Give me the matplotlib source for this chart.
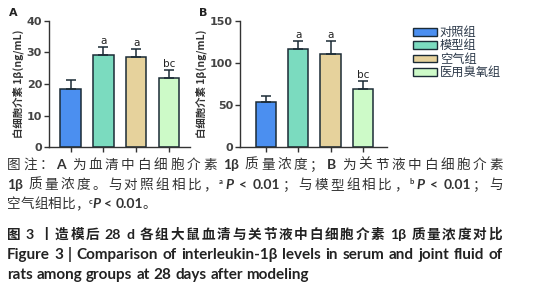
import matplotlib
matplotlib.use("Agg")
import matplotlib.pyplot as plt
import matplotlib.transforms as mtransforms
from matplotlib.patches import Patch

plt.rcParams['font.family'] = ['Noto Sans CJK SC', 'DejaVu Sans']

# ---------------- data ----------------
groups = ['对照组', '模型组', '空气组', '医用臭氧组']
serum = [18.5, 29.1, 28.6, 21.9]
serum_err = [2.9, 2.6, 2.6, 2.7]
fluid = [53.6, 116.3, 111.1, 69.0]
fluid_err = [7.1, 9.9, 14.7, 9.2]
sig_labels = ['', 'a', 'a', 'bc']
serum_ticks = [0, 10, 20, 30, 40]
fluid_ticks = [0, 50, 100, 150]
ylabel = '白细胞介素 1β(ng/mL)'

colors = ['#4b8ff0', '#7bdbbf', '#e6d29c', '#cdfac8']
edge = '#1b2b36'

W, H = 556, 300
fig = plt.figure(figsize=(W / 100, H / 100), dpi=100)


def ax_px(left, right, top, bottom):
    return fig.add_axes([left / W, 1 - bottom / H, (right - left) / W, (bottom - top) / H])


def draw_panel(ax, vals, errs, ticks, xlim, letter_offset):
    x = list(range(len(vals)))
    ax.bar(x, vals, width=0.62, color=colors, edgecolor=edge, linewidth=1.1, zorder=2)
    ax.errorbar(x, vals, yerr=[[0] * len(vals), errs], fmt='none', ecolor=edge,
                elinewidth=1.1, capsize=3.5, capthick=1.1, zorder=3)
    for xi, v, e, s in zip(x, vals, errs, sig_labels):
        if s:
            ax.text(xi, v + e + letter_offset, s, ha='center', va='bottom',
                    fontsize=7.5, color='#222222', family=['DejaVu Sans'])
    ax.set_xlim(*xlim)
    ax.set_ylim(ticks[0], ticks[-1])
    ax.set_yticks(ticks)
    ax.set_xticks(x)
    ax.set_xticklabels([])
    for sp in ['top', 'right']:
        ax.spines[sp].set_visible(False)
    for sp in ['left', 'bottom']:
        ax.spines[sp].set_linewidth(1.0)
        ax.spines[sp].set_color('#333333')
    ax.spines['bottom'].set_zorder(4)
    ax.tick_params(axis='both', direction='out', length=3.5, width=1.0, color='#333333',
                   labelsize=8, labelcolor='#444444', pad=1.5)
    for lab in ax.get_yticklabels():
        lab.set_fontweight('bold')
        lab.set_family(['DejaVu Sans'])
    ax.set_ylabel(ylabel, fontsize=7.5, color='#333333', labelpad=2, fontweight='bold')
    ax.patch.set_alpha(0)


axA = ax_px(49, 190, 21, 147)
draw_panel(axA, serum, serum_err, serum_ticks, (-0.66, 3.64), 0.3)
axB = ax_px(240, 387, 21, 147)
draw_panel(axB, fluid, fluid_err, fluid_ticks, (-0.79, 3.74), 1.0)

fig.text(13 / W, 1 - 13 / H, 'A', fontsize=8, fontweight='bold', ha='center', va='center',
         family=['DejaVu Sans'], color='#222222')
fig.text(203 / W, 1 - 13 / H, 'B', fontsize=8, fontweight='bold', ha='center', va='center',
         family=['DejaVu Sans'], color='#222222')

handles = [Patch(facecolor=c, edgecolor=edge, linewidth=1.0) for c in colors]
fig.legend(handles, groups, loc='upper left', bbox_to_anchor=(413 / W, 1 - 26 / H),
           frameon=False, fontsize=8.8, handlelength=2.0, handleheight=0.6,
           handletextpad=0.2, labelspacing=0.03, borderaxespad=0, borderpad=0,
           labelcolor='#2d3a4a')

# ---------------- caption with justified lines ----------------
ident = mtransforms.IdentityTransform()
renderer = fig.canvas.get_renderer()

CJK = ['Noto Sans CJK SC', 'DejaVu Sans']
LAT = ['Lato', 'DejaVu Sans']


def is_cjk(ch):
    return ord(ch) > 0x2E80


def place_line(tokens, y, x0=7, x1=None):
    """tokens: list of (text, dict(size, weight, family, style, dy, color))"""
    units = []
    for s, st in tokens:
        buf = ''
        for ch in s:
            if ch == ' ':
                if buf:
                    units.append((buf, st))
                    buf = ''
                units.append(('__space__', st['size'] * 100 / 72 * 0.25))
            elif is_cjk(ch):
                if buf:
                    units.append((buf, st))
                    buf = ''
                units.append((ch, st))
            else:
                buf += ch
        if buf:
            units.append((buf, st))
    items = []
    total = 0
    for u, st in units:
        if u == '__space__':
            items.append((None, st))
            total += st
        else:
            t = fig.text(0, 0, u, transform=ident, fontsize=st['size'],
                         fontweight=st.get('weight', 'normal'), family=st['family'],
                         fontstyle=st.get('style', 'normal'), color=st.get('color', '#333333'),
                         va='baseline', ha='left')
            w = t.get_window_extent(renderer).width
            items.append((t, w))
            total += w
    ngaps = sum(1 for t, _ in items if t is not None) - 1
    extra = 0
    if x1 is not None and ngaps > 0:
        extra = (x1 - x0 - total) / ngaps
    x = x0
    first = True
    for (t, w), (u, st) in zip(items, units):
        if t is None:
            x += w
            continue
        if not first:
            x += extra
        first = False
        t.set_position((x, H - y + st.get('dy', 0)))
        x += w


pc = dict(size=9.8, family=CJK, color='#333333')
pl = dict(size=10.0, family=LAT, color='#333333', weight='bold')
pi = dict(size=10.0, family=LAT, color='#333333', weight='bold', style='italic')
ps = dict(size=5.5, family=LAT, color='#333333', weight='bold', dy=4.5)

place_line([('图注：', pc), ('A ', pl), ('为血清中白细胞介素 ', pc), ('1β ', pl),
            ('质量浓度；', pc), ('B ', pl), ('为关节液中白细胞介素', pc)], 169, 7, 503)
place_line([('1β ', pl), ('质量浓度。与对照组相比，', pc), ('a', ps), ('P', pi), (' < 0.01', pl),
            ('；与模型组相比，', pc), ('b', ps), ('P', pi), (' < 0.01', pl), ('；与', pc)], 189, 7, 503)
place_line([('空气组相比，', pc), ('c', ps), ('P', pi), (' < 0.01', pl), ('。', pc)], 208, 7, None)

tc = dict(size=9.8, family=CJK, color='#222222', weight='bold')
tl = dict(size=10.2, family=LAT, color='#222222', weight='bold')
place_line([('图 ', tc), ('3 ', tl), ('丨造模后 ', tc), ('28 d ', tl),
            ('各组大鼠血清与关节液中白细胞介素 ', tc), ('1β ', tl), ('质量浓度对比', tc)], 239, 7, 502)
el = dict(size=11.0, family=LAT, color='#222222', weight='bold')
place_line([('Figure 3 | Comparison of interleukin-1β levels in serum and joint fluid of', el)],
           259, 7, 503)
place_line([('rats among groups at 28 days after modeling', el)], 279, 7, None)

fig.savefig('out.png', dpi=100)
